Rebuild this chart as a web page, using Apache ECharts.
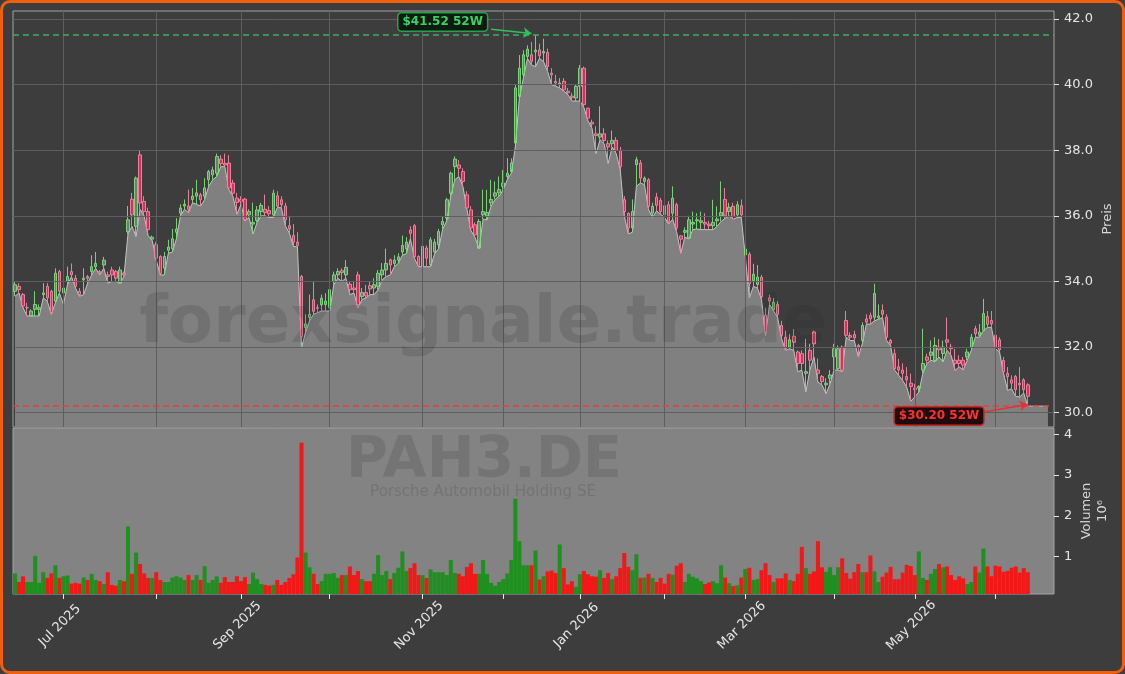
<!DOCTYPE html>
<html><head><meta charset="utf-8">
<script src="https://cdn.jsdelivr.net/npm/echarts@6.0.0/dist/echarts.min.js"></script>
<style>
html,body{margin:0;padding:0;background:#3d3d3d;}
#wrap{position:relative;width:1125px;height:674px;overflow:hidden;background:#3d3d3d;}
#chart{position:absolute;left:0;top:0;width:1125px;height:674px;}
#frame{position:absolute;left:0;top:0;width:1125px;height:674px;box-sizing:border-box;border:3px solid #f0600c;border-radius:10px;pointer-events:none;}
</style></head><body>
<div id="wrap"><div id="chart"></div><div id="frame"></div></div>
<script>
// ---- calendar (category axis) ----
const startDate = '2025-06-13';
const holidays = ['2025-12-24','2025-12-25','2025-12-26','2025-12-31','2026-01-01','2026-04-03','2026-04-06','2026-05-01'];
const categoryCount = 258;
const monthNames = ['Jan','Feb','Mar','Apr','May','Jun','Jul','Aug','Sep','Oct','Nov','Dec'];
const labeledMonths = ['01','03','05','07','09','11'];

// ---- price data (EUR) ----
const opens = [33.7,33.85,33.6,33.2,32.95,33.15,33.15,33.6,33.85,33.7,
33.4,34.3,33.65,34.0,34.3,34.1,33.7,34.05,34.15,34.3,
34.45,34.3,34.5,34.2,34.35,34.3,33.95,34.25,35.52,36.51,
35.68,37.86,36.44,36.13,35.29,35.12,34.76,34.41,34.95,35.0,
35.5,36.08,36.3,36.3,36.5,36.6,36.64,36.6,37.1,37.25,
37.3,37.73,37.6,37.61,37.0,36.54,36.5,36.51,36.03,35.75,
35.86,36.13,36.2,36.16,36.03,36.61,36.49,36.3,35.7,35.4,
35.2,34.15,32.6,32.9,33.44,33.2,33.29,33.3,33.19,34.0,
34.2,34.33,34.2,33.92,33.8,34.2,33.54,33.66,33.87,33.8,
33.85,34.2,34.35,34.66,34.55,34.65,34.9,35.0,35.57,35.7,
34.76,34.46,35.02,34.51,34.9,35.12,35.73,35.93,36.69,37.5,
37.55,37.35,36.64,36.18,35.73,35.02,36.03,36.0,36.4,36.6,
36.7,36.9,37.2,37.35,38.22,39.64,40.3,40.86,40.91,41.0,
41.06,40.96,40.98,40.35,40.1,40.0,40.1,39.8,39.65,39.59,
39.95,40.5,39.28,38.85,38.5,38.4,38.5,38.2,38.2,38.3,
38.0,36.49,36.08,35.63,37.56,37.61,37.05,37.1,36.08,36.57,
36.47,36.31,36.34,36.08,36.34,35.39,35.5,35.32,35.75,35.85,
35.8,35.8,35.75,35.7,35.85,36.0,36.5,36.13,36.29,36.03,
36.31,34.81,34.83,34.03,33.91,34.13,32.97,33.5,33.14,33.3,
32.66,32.3,32.0,32.33,31.85,31.8,31.2,31.9,32.46,31.3,
31.1,30.85,31.05,31.7,31.34,32.0,32.81,32.35,32.38,32.05,
32.2,32.86,32.96,32.91,32.9,33.12,32.91,32.2,31.8,31.4,
31.3,31.1,30.9,30.75,30.75,31.3,31.7,31.75,31.59,32.0,
31.8,32.22,32.0,31.6,31.6,31.6,31.7,32.0,32.56,32.36,
32.51,32.93,32.81,32.36,32.22,31.59,31.2,31.0,31.1,30.9,
31.0,30.85];
const closes = [33.9,33.75,33.25,33.2,33.1,33.3,33.2,33.65,33.5,33.05,
34.25,33.7,33.8,34.15,34.2,33.85,33.6,34.1,34.1,34.45,
34.55,34.25,34.65,34.15,34.2,34.1,34.35,34.2,35.88,36.03,
37.15,36.39,36.13,35.58,35.35,34.71,34.25,34.76,35.05,35.3,
35.6,36.24,36.35,36.2,36.6,36.7,36.49,36.85,37.35,37.4,
37.81,37.59,37.55,36.85,36.69,36.41,36.44,35.88,36.13,35.8,
36.18,36.32,36.1,36.06,36.69,36.29,36.34,35.88,35.6,35.2,
35.1,32.32,32.7,33.0,33.09,33.18,33.49,33.4,33.75,34.2,
34.3,34.27,34.43,33.75,33.75,33.29,33.66,33.56,33.77,33.9,
34.25,34.35,34.55,34.5,34.65,34.75,35.1,35.2,35.47,34.75,
34.49,35.07,34.71,35.27,35.2,35.52,35.83,36.49,37.3,37.73,
37.45,37.05,36.24,35.63,35.42,35.83,36.13,36.1,36.5,36.7,
36.8,37.0,37.3,37.61,39.9,40.5,40.91,41.08,40.71,41.05,
40.88,41.01,40.55,40.3,40.05,40.05,39.84,39.75,39.6,39.95,
40.5,39.39,38.98,38.8,38.45,38.5,38.3,38.1,38.3,38.0,
37.5,36.13,35.63,36.13,37.71,37.15,37.15,36.29,36.29,36.32,
36.13,36.03,35.83,36.54,35.63,35.29,35.55,35.88,35.8,35.88,
35.85,35.75,35.7,35.8,35.9,36.1,36.0,36.26,35.98,36.34,
36.03,34.99,33.93,34.22,34.13,33.54,32.46,33.4,33.37,33.0,
32.36,31.95,32.22,32.15,31.5,31.5,31.25,31.6,32.1,31.2,
30.95,30.9,31.15,31.95,31.95,31.29,32.36,32.3,32.28,32.0,
32.66,32.76,32.86,33.63,32.95,33.0,32.3,32.12,31.34,31.3,
31.2,31.0,30.8,30.7,30.8,31.5,31.6,31.85,32.05,31.92,
32.0,32.15,31.95,31.5,31.5,31.45,31.85,32.3,32.41,32.46,
33.02,32.69,32.71,32.0,31.92,31.24,31.1,30.9,30.7,30.85,
30.7,30.5];
const lows = [33.55,33.65,33.2,32.95,32.95,32.95,32.95,33.5,33.4,33.0,
33.35,33.65,33.3,33.9,34.15,33.8,33.55,33.6,33.95,34.2,
34.4,34.2,34.4,33.95,34.0,34.0,33.95,34.15,35.45,35.68,
35.37,36.2,36.0,35.4,35.25,34.66,34.2,34.2,34.86,34.9,
35.3,36.0,36.2,36.1,36.4,36.35,36.3,36.5,36.9,37.1,
37.2,37.5,37.5,36.8,36.6,36.05,36.35,35.85,35.95,35.45,
35.8,36.0,36.0,35.95,35.95,36.25,36.25,35.7,35.47,35.07,
35.05,31.97,32.45,32.8,33.0,33.05,33.1,33.1,33.1,33.9,
34.1,34.0,34.1,33.6,33.65,33.2,33.45,33.5,33.6,33.6,
33.75,34.05,34.15,34.2,34.45,34.55,34.8,34.85,35.3,34.7,
34.45,34.45,34.45,34.45,34.85,35.0,35.6,35.85,36.6,37.1,
37.2,36.9,36.2,35.55,35.35,35.0,35.9,35.88,36.3,36.5,
36.6,36.8,37.1,37.3,38.1,39.6,40.2,40.8,40.6,40.55,
40.8,40.7,40.4,40.0,39.95,39.9,39.8,39.7,39.5,39.5,
39.5,39.3,38.9,38.67,37.9,38.32,38.2,37.6,38.1,37.9,
37.4,36.0,35.45,35.5,36.9,37.0,36.95,36.2,35.95,36.15,
36.05,35.95,35.75,35.9,35.5,34.86,35.35,35.3,35.58,35.6,
35.58,35.58,35.58,35.58,35.68,35.83,35.93,36.0,35.9,35.95,
35.95,34.75,33.5,33.85,33.8,33.45,32.35,33.3,33.1,32.9,
32.25,31.9,31.95,31.9,31.25,31.3,30.63,31.3,31.7,30.93,
30.85,30.58,30.88,31.3,31.3,31.25,32.3,32.2,32.2,31.7,
32.1,32.7,32.7,32.8,32.85,32.9,32.2,32.05,31.3,31.14,
30.98,30.78,30.35,30.48,30.63,31.2,31.5,31.6,31.55,31.7,
31.55,31.9,31.75,31.29,31.4,31.3,31.6,31.9,32.3,32.3,
32.5,32.6,32.6,31.95,31.85,31.2,30.68,30.73,30.5,30.48,
30.6,30.2];
const highs = [34.0,33.95,33.65,33.35,33.15,33.7,33.3,33.95,33.95,33.75,
34.4,34.35,33.9,34.45,34.55,34.2,33.8,34.4,34.2,34.8,
34.9,34.35,34.75,34.3,34.45,34.35,34.45,34.3,36.3,36.7,
37.2,38.01,36.6,36.25,35.4,35.2,34.8,34.9,35.27,35.6,
35.93,36.35,36.5,36.8,36.85,37.1,36.7,37.15,37.4,37.5,
37.9,37.85,37.9,37.85,37.1,36.7,36.6,36.55,36.2,36.4,
36.3,36.4,36.65,36.3,36.8,36.75,36.6,36.4,36.0,35.75,
35.5,34.2,33.0,33.6,34.0,33.3,33.6,33.64,33.85,34.3,
34.4,34.4,34.65,34.0,34.0,34.3,33.8,33.9,34.0,34.1,
34.35,34.56,35.0,34.7,34.8,34.86,35.4,35.35,35.68,35.75,
34.8,35.1,35.1,35.35,35.3,35.6,35.98,36.55,37.35,37.81,
37.7,37.45,36.75,36.3,35.8,35.9,36.8,36.79,37.1,37.05,
37.2,37.4,37.76,37.75,40.0,40.9,41.05,41.2,41.3,41.52,
41.25,41.4,41.1,40.5,40.3,40.2,40.2,39.9,39.75,40.0,
40.6,40.55,39.3,38.93,38.73,39.34,38.67,38.3,38.6,38.4,
38.1,36.6,36.1,36.5,37.8,37.7,37.2,37.15,36.4,36.7,
36.55,36.4,36.45,36.9,36.4,35.4,35.65,36.0,36.13,36.08,
36.13,36.08,35.85,36.49,36.29,37.05,36.85,36.4,36.4,36.45,
36.5,35.3,34.9,34.54,34.5,34.2,33.2,33.6,33.5,33.4,
32.8,32.5,32.4,32.55,31.9,31.9,32.25,32.1,32.5,31.65,
31.15,31.05,31.3,32.1,32.05,32.05,33.1,32.45,32.5,32.1,
32.75,33.0,33.05,33.93,33.3,33.3,33.0,32.25,31.95,31.64,
31.5,31.39,31.19,30.88,30.83,32.56,31.8,32.2,32.3,32.25,
32.2,32.9,32.1,31.95,31.75,31.7,31.95,32.4,32.65,32.7,
33.47,33.1,33.1,32.5,32.3,31.7,31.39,31.14,31.15,31.39,
31.05,30.9];
const areaTail = [30.2,30.2,30.2,30.2,30.2];
// ---- volume (millions) ----
const volumes = [0.59,0.38,0.52,0.38,0.38,1.02,0.36,0.62,0.48,0.59,
0.79,0.48,0.52,0.54,0.34,0.36,0.34,0.49,0.43,0.58,
0.43,0.40,0.33,0.62,0.31,0.29,0.43,0.40,1.74,0.58,
1.1,0.82,0.59,0.48,0.48,0.62,0.43,0.38,0.38,0.49,
0.52,0.49,0.43,0.55,0.43,0.55,0.43,0.77,0.36,0.43,
0.52,0.36,0.50,0.38,0.38,0.52,0.40,0.50,0.33,0.61,
0.45,0.33,0.31,0.29,0.31,0.43,0.31,0.38,0.48,0.57,
0.98,3.79,1.1,0.74,0.58,0.33,0.40,0.58,0.58,0.60,
0.48,0.55,0.55,0.76,0.55,0.65,0.45,0.40,0.40,0.58,
1.04,0.55,0.65,0.45,0.60,0.73,1.13,0.65,0.72,0.84,
0.55,0.55,0.48,0.69,0.62,0.62,0.62,0.55,0.92,0.60,
0.58,0.52,0.75,0.84,0.58,0.58,0.92,0.58,0.36,0.29,
0.38,0.45,0.59,0.92,2.42,1.38,0.79,0.79,0.79,1.15,
0.44,0.52,0.64,0.66,0.60,1.3,0.72,0.32,0.40,0.26,
0.57,0.65,0.57,0.52,0.51,0.67,0.48,0.60,0.45,0.52,
0.72,1.09,0.75,0.67,1.06,0.48,0.49,0.58,0.48,0.38,
0.48,0.34,0.58,0.56,0.78,0.84,0.38,0.58,0.51,0.47,
0.40,0.33,0.37,0.40,0.35,0.79,0.49,0.35,0.28,0.30,
0.49,0.70,0.73,0.43,0.45,0.67,0.84,0.55,0.38,0.47,
0.47,0.59,0.43,0.40,0.58,1.24,0.72,0.58,0.64,1.38,
0.74,0.63,0.74,0.55,0.74,0.96,0.60,0.46,0.62,0.82,
0.62,0.62,1.03,0.64,0.38,0.51,0.61,0.75,0.45,0.45,
0.61,0.80,0.77,0.55,1.13,0.48,0.43,0.58,0.70,0.82,
0.74,0.76,0.55,0.43,0.52,0.47,0.33,0.38,0.76,0.61,
1.2,0.76,0.52,0.78,0.76,0.63,0.65,0.73,0.76,0.61,
0.72,0.62];
// ---- axis ticks / annotations ----
const priceTicks = [30,32,34,36,38,40,42];
const volumeTicks = [1,2,3,4];
const high52 = 41.52, low52 = 30.20;
const high52Idx = 129, low52Idx = 251;

function buildDates(start, n, hol) {
  const out = []; const d = new Date(start + 'T00:00:00Z');
  while (out.length < n) {
    const wd = d.getUTCDay(); const s = d.toISOString().slice(0, 10);
    if (wd !== 0 && wd !== 6 && hol.indexOf(s) < 0) out.push(s);
    d.setUTCDate(d.getUTCDate() + 1);
  }
  return out;
}
const dates = buildDates(startDate, categoryCount, holidays);
const monthStart = new Set();
for (let i = 1; i < dates.length; i++) if (dates[i].slice(0, 7) !== dates[i - 1].slice(0, 7)) monthStart.add(i);
const isLabeled = i => monthStart.has(i) && labeledMonths.indexOf(dates[i].slice(5, 7)) >= 0;

const FONT = 'DejaVu Sans';
const candleData = opens.map((o, i) => [o, closes[i], lows[i], highs[i]]);
const volData = volumes.map((v, i) => ({ value: v, itemStyle: { color: closes[i] >= opens[i] ? '#1f8f1f' : '#f21818' } }));
const gridLineData = priceTicks.map(v => ({ yAxis: v })).concat([...monthStart].map(i => ({ xAxis: dates[i] })));

const chart = echarts.init(document.getElementById('chart'), null, { renderer: 'canvas' });
chart.setOption({
  animation: false,
  backgroundColor: '#3d3d3d',
  grid: [
    { left: 13, right: 71, top: 11, height: 416, show: true, backgroundColor: '#3d3d3d', borderColor: '#a4a4a4', borderWidth: 1 },
    { left: 13, right: 71, top: 428, height: 166, show: true, backgroundColor: '#838383', borderColor: '#a4a4a4', borderWidth: 1 }
  ],
  xAxis: [
    { type: 'category', gridIndex: 0, data: dates, boundaryGap: true,
      axisLine: { show: false }, axisTick: { show: false }, axisLabel: { show: false }, splitLine: { show: false } },
    { type: 'category', gridIndex: 1, data: dates, boundaryGap: true,
      axisLine: { show: false },
      axisTick: { show: true, alignWithLabel: true, length: 5, interval: (i) => monthStart.has(i), lineStyle: { color: '#e6e6e6' } },
      axisLabel: { show: true, interval: (i) => isLabeled(i), rotate: 45, margin: 28, align: 'center', verticalAlign: 'middle',
        padding: [0, 10, 0, 0], color: '#e6e6e6', fontSize: 13, fontFamily: FONT,
        formatter: (v) => monthNames[+v.slice(5, 7) - 1] + ' ' + v.slice(0, 4) },
      splitLine: { show: false } }
  ],
  yAxis: [
    { type: 'value', gridIndex: 0, position: 'right', min: 29.564, max: 42.244, scale: true,
      name: 'Preis', nameLocation: 'middle', nameRotate: 90, nameGap: 47, nameMoveOverlap: false,
      nameTextStyle: { color: '#d8d8d8', fontSize: 13, fontFamily: FONT },
      axisLine: { show: false },
      axisTick: { show: true, length: 5, customValues: priceTicks, lineStyle: { color: '#e6e6e6' } },
      axisLabel: { show: true, margin: 10, customValues: priceTicks, color: '#e6e6e6', fontSize: 13, fontFamily: FONT, formatter: (v) => v.toFixed(1) },
      splitLine: { show: false } },
    { type: 'value', gridIndex: 1, position: 'right', min: 0.086, max: 4.154, scale: true,
      name: 'Volumen\n10⁶', nameLocation: 'middle', nameRotate: 90, nameGap: 25, nameMoveOverlap: false,
      nameTextStyle: { color: '#d8d8d8', fontSize: 13, fontFamily: FONT, lineHeight: 16, align: 'center' },
      axisLine: { show: false },
      axisTick: { show: true, length: 5, customValues: volumeTicks, lineStyle: { color: '#e6e6e6' } },
      axisLabel: { show: true, margin: 10, customValues: volumeTicks, color: '#e6e6e6', fontSize: 13, fontFamily: FONT, formatter: (v) => String(v) },
      splitLine: { show: false } }
  ],
  graphic: [
    { type: 'text', x: 483, y: 325, z: 100, silent: true,
      style: { text: 'forexsignale.trade', font: 'bold 66px "DejaVu Sans"', fill: 'rgba(40,40,40,0.16)', align: 'center', verticalAlign: 'middle', textAlign: 'center', textVerticalAlign: 'middle' } },
    { type: 'text', x: 484, y: 462, z: 100, silent: true,
      style: { text: 'PAH3.DE', font: 'bold 57px "DejaVu Sans"', fill: 'rgba(40,40,40,0.16)', align: 'center', verticalAlign: 'middle', textAlign: 'center', textVerticalAlign: 'middle' } },
    { type: 'text', x: 483, y: 492, z: 100, silent: true,
      style: { text: 'Porsche Automobil Holding SE', font: '15px "DejaVu Sans"', fill: 'rgba(40,40,40,0.16)', align: 'center', verticalAlign: 'middle', textAlign: 'center', textVerticalAlign: 'middle' } }
  ],
  series: [
    { name: 'grid', type: 'line', xAxisIndex: 0, yAxisIndex: 0, data: lows, z: 1, silent: true,
      showSymbol: false, lineStyle: { opacity: 0 },
      markLine: { silent: true, symbol: 'none', label: { show: false }, animation: false,
        lineStyle: { color: '#5e5e5e', width: 1, type: 'solid' }, data: gridLineData } },
    { name: 'Tief', type: 'line', xAxisIndex: 0, yAxisIndex: 0, data: lows.concat(areaTail), z: 2, silent: true,
      showSymbol: false, symbol: 'none', lineStyle: { color: '#c4c4c4', width: 1 },
      areaStyle: { color: '#808080', opacity: 1, origin: 'start' } },
    { name: 'Kurs', type: 'candlestick', xAxisIndex: 0, yAxisIndex: 0, data: candleData, z: 3, barWidth: 3,
      itemStyle: { color: 'rgba(150,205,150,0.55)', color0: '#e8305e', borderColor: '#7fe07f', borderColor0: '#f28aa5', borderWidth: 1, opacity: 0.9 },
      markLine: { silent: true, symbol: 'none', label: { show: false }, animation: false,
        data: [
          { yAxis: high52, lineStyle: { color: '#3aae5e', width: 1.5, type: [6, 4] } },
          { yAxis: low52, lineStyle: { color: '#e0403c', width: 1.5, type: [6, 4] } },
          [ { coord: [dates[118], 41.69], symbol: 'none', lineStyle: { color: '#2fc25a', width: 1.5, type: 'solid' } },
            { coord: [dates[high52Idx - 1], 41.56], symbol: 'arrow', symbolSize: 8 } ],
          [ { coord: [dates[240], 30.02], symbol: 'none', lineStyle: { color: '#e83030', width: 1.5, type: 'solid' } },
            { coord: [dates[low52Idx], 30.25], symbol: 'arrow', symbolSize: 8 } ]
        ] },
      markPoint: { silent: true, symbol: 'rect', symbolSize: 1, itemStyle: { color: 'rgba(0,0,0,0)' }, animation: false,
        data: [
          { coord: [dates[106], 41.91], label: { show: true, position: 'inside', formatter: '$41.52 52W', color: '#35d563', fontWeight: 'bold', fontSize: 12, fontFamily: FONT,
              backgroundColor: '#0e1a12', borderColor: '#27a24c', borderWidth: 1.5, borderRadius: 3, padding: [3, 4, 2, 4] } },
          { coord: [dates[229], 29.9], label: { show: true, position: 'inside', formatter: '$30.20 52W', color: '#ff3030', fontWeight: 'bold', fontSize: 12, fontFamily: FONT,
              backgroundColor: '#1e0c0c', borderColor: '#c82828', borderWidth: 1.5, borderRadius: 3, padding: [3, 4, 2, 4] } }
        ] } },
    { name: 'Volumen', type: 'bar', xAxisIndex: 1, yAxisIndex: 1, data: volData, barCategoryGap: '0%', z: 2 }
  ]
});
</script>
</body></html>
